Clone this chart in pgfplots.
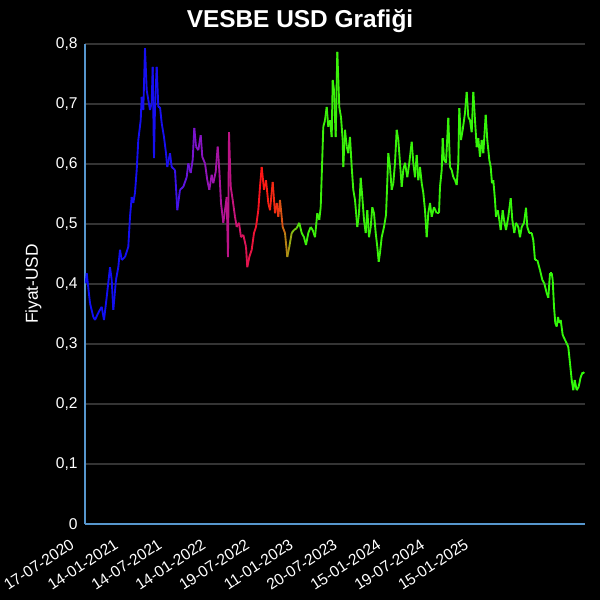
\documentclass[border=0pt]{standalone}
\usepackage{pgfplots}
\pgfplotsset{compat=1.18}
\usepackage{fontspec}
\setmainfont{Liberation Sans}

\definecolor{axisblue}{RGB}{86,150,205}
\definecolor{gridgray}{RGB}{52,52,52}

\begin{document}
\begin{tikzpicture}
\fill[black] (-63.75pt,-57pt) rectangle (386.25pt,393pt);
\node[anchor=base, text=white, font=\fontsize{18.3}{20}\selectfont\bfseries] at (161.25pt,372pt) {VESBE USD Grafiği};
\begin{axis}[
    at={(0,0)}, anchor=south west,
    scale only axis,
    width=375pt, height=360pt,
    xmin=0, xmax=500,
    ymin=0, ymax=0.8,
    axis x line*=bottom, axis y line*=left,
    axis line style={color=axisblue, line width=0.8pt, -},
    major tick length=0pt,
    ytick={0,0.1,0.2,0.3,0.4,0.5,0.6,0.7,0.8},
    ymajorgrids,
    grid style={color=gridgray, line width=0.8pt},
    xtick={0,43.8,87.6,131.4,175.2,219,262.8,306.6,350.4,394.2},
    xticklabels={17-07-2020,14-01-2021,14-07-2021,14-01-2022,19-07-2022,11-01-2023,20-07-2023,15-01-2024,19-07-2024,15-01-2025},
    tick label style={text=white, font=\fontsize{11.7}{13}\selectfont},
    xticklabel style={xshift=-10.7pt, yshift=-5.9pt, rotate=33, anchor=north east},
    yticklabel style={xshift=-2pt},
    /pgf/number format/assume math mode=true,
    yticklabel style={/pgf/number format/.cd, use comma, fixed, precision=1},
    every axis y label/.style={at={(axis description cs:-0.103,0.5)}, rotate=90, anchor=center, text=white, font=\fontsize{13}{15}\selectfont},
    ylabel={Fiyat-USD},
    colormap={vesbe}{rgb255(0pt)=(15,15,245); rgb255(85pt)=(25,15,240); rgb255(95pt)=(80,20,230); rgb255(110pt)=(125,20,205); rgb255(130pt)=(160,20,170); rgb255(150pt)=(200,20,120); rgb255(165pt)=(230,20,70); rgb255(177pt)=(255,20,20); rgb255(193pt)=(240,50,20); rgb255(199pt)=(200,110,20); rgb255(207pt)=(140,185,20); rgb255(217pt)=(60,240,10); rgb255(500pt)=(50,250,10)},
    point meta min=0, point meta max=500,
]
\addplot[mesh, line width=1.4pt, point meta=x] coordinates {
(0.7,0.401) (1.7,0.418) (5,0.368) (8.3,0.345) (10,0.34) (13.3,0.352) (16.7,0.362) (19,0.34)
(21.7,0.378) (25,0.428) (26.7,0.407) (28.3,0.357) (31,0.407) (33.3,0.428) (35,0.457) (36.7,0.44)
(40,0.445) (43.3,0.462) (45,0.512) (46.7,0.545) (48.3,0.535) (50,0.552) (51.7,0.59) (53.3,0.64)
(55.7,0.673) (56.7,0.712) (58.3,0.69) (60,0.793) (61.7,0.723) (63.3,0.707) (65,0.69) (66.7,0.702)
(67.7,0.762) (69,0.61) (70,0.695) (71.7,0.762) (73.3,0.695) (75,0.695) (76.7,0.668) (79,0.645)
(81,0.618) (82.3,0.595) (85,0.618) (86.7,0.595) (90,0.59) (92.3,0.523) (95,0.557) (98.3,0.562)
(101.7,0.578) (103.3,0.601) (105.7,0.585) (107.7,0.607) (109.3,0.66) (111,0.629) (113.3,0.623)
(115.7,0.648) (117.3,0.612) (120,0.601) (122.3,0.573) (124.3,0.557) (126.7,0.582) (128.3,0.568)
(130.7,0.587) (132.7,0.629) (134.3,0.59) (136,0.535) (138.3,0.502) (140,0.523) (141.7,0.545)
(143,0.445) (144,0.653) (145.7,0.562) (147.7,0.54) (150,0.512) (151.7,0.495) (154,0.502)
(156,0.478) (158.3,0.482) (161,0.462) (162.3,0.428) (164.3,0.445) (166.7,0.457) (169,0.485)
(171,0.495) (173.3,0.523) (175,0.562) (176.7,0.595) (179,0.557) (181,0.573) (183.3,0.535)
(185,0.523) (187.7,0.57) (190,0.518) (191.7,0.535) (193.3,0.512) (195,0.54) (197.7,0.495)
(200,0.485) (202.3,0.445) (204.3,0.462) (206.7,0.485) (209,0.49) (211.7,0.493) (214.3,0.502)
(216.7,0.485) (219,0.478) (221,0.465) (223.3,0.485) (225.7,0.495) (227.7,0.49) (230,0.478)
(232.3,0.518) (234.3,0.507) (235.7,0.528) (237,0.595) (238.3,0.662) (240,0.673) (241.7,0.695)
(243.3,0.662) (245,0.673) (246.7,0.645) (247.7,0.74) (249,0.723) (250.7,0.645) (252.3,0.787)
(254.3,0.695) (256,0.678) (257.7,0.64) (258.3,0.595) (260,0.657) (261.7,0.629) (263.3,0.618)
(265,0.645) (266.7,0.595) (268.3,0.557) (270,0.54) (272.3,0.495) (274,0.518) (275.7,0.577)
(277.3,0.545) (279,0.507) (280.7,0.485) (282.3,0.523) (284,0.478) (285.7,0.495) (287.3,0.528)
(289,0.518) (290.7,0.485) (292.3,0.462) (293.7,0.437) (295,0.452) (296.7,0.478) (299,0.495)
(301,0.515) (302.3,0.57) (303.3,0.618) (305,0.595) (306.7,0.557) (308.3,0.568) (310,0.602)
(311.7,0.657) (313.3,0.64) (315,0.602) (316.7,0.562) (318.3,0.59) (320,0.602) (322.3,0.578)
(324.3,0.602) (326.7,0.637) (328.3,0.602) (330,0.578) (331.7,0.615) (333.3,0.573) (335,0.595)
(336.7,0.568) (338.3,0.552) (340,0.523) (341.7,0.478) (343.3,0.518) (345,0.535) (346.7,0.512)
(349,0.528) (351.7,0.518) (354,0.518) (355,0.562) (356.7,0.59) (357.7,0.643) (359,0.607)
(361,0.602) (363.3,0.677) (365,0.595) (366.7,0.59) (368.3,0.578) (370,0.573) (371.7,0.565)
(373.3,0.602) (374.3,0.693) (376,0.64) (377.7,0.657) (380,0.685) (381.7,0.72) (383.3,0.678)
(385,0.673) (386.7,0.653) (388.3,0.72) (390,0.673) (391.7,0.628) (393.3,0.643) (395,0.612)
(396.7,0.64) (398.3,0.618) (400.7,0.682) (402.3,0.64) (404.3,0.607) (405.7,0.595) (407,0.568)
(408.3,0.573) (410,0.54) (411,0.512) (412.7,0.523) (414.3,0.507) (415.7,0.49) (417.7,0.523)
(419,0.507) (421,0.49) (423.3,0.512) (425.7,0.543) (427.3,0.507) (429.3,0.485) (431,0.502)
(433.3,0.495) (435,0.478) (436.7,0.495) (439,0.502) (441,0.527) (442.3,0.495) (444.3,0.485)
(446.7,0.485) (448.3,0.473) (450,0.44) (452.3,0.44) (455,0.423) (457.3,0.407) (459.3,0.401)
(461.7,0.385) (463.3,0.377) (465,0.418) (466.7,0.418) (467.7,0.407) (469,0.362) (470.3,0.335)
(471.7,0.329) (473,0.345) (474.3,0.335) (475.7,0.34) (477.7,0.315) (480,0.307) (481.7,0.301)
(483.3,0.295) (485,0.268) (486.7,0.24) (488.3,0.223) (489.7,0.24) (491.7,0.223) (493.7,0.229)
(495.7,0.245) (497.7,0.253) (499.3,0.251)
};
\end{axis}
\pgfresetboundingbox
\path[use as bounding box] (-63.75pt,-57pt) rectangle (386.25pt,393pt);
\end{tikzpicture}
\end{document}
